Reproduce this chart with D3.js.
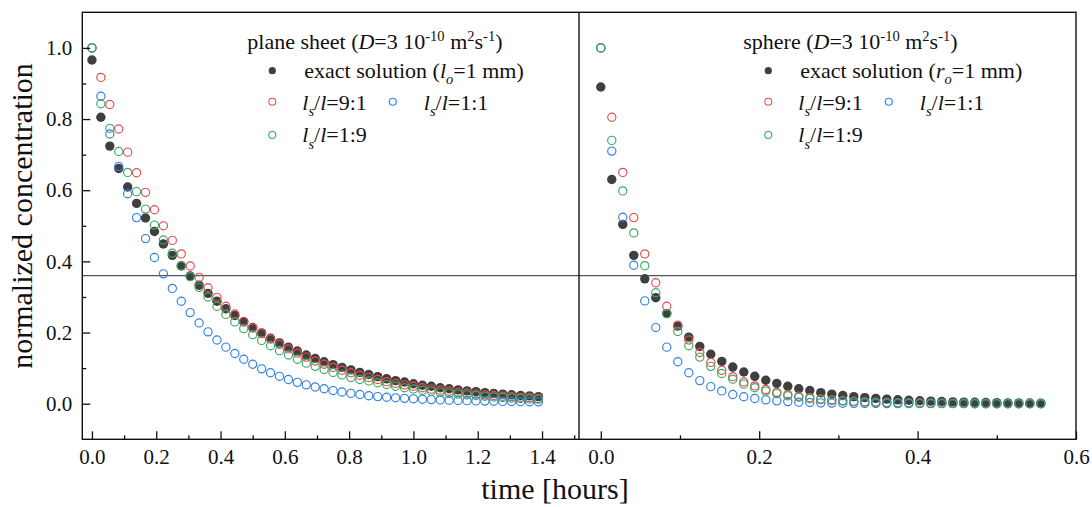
<!DOCTYPE html>
<html><head><meta charset="utf-8">
<script src="https://cdn.jsdelivr.net/npm/d3@7"></script>
<style>
body{margin:0;background:#fff}
</style>
</head><body>
<svg id="c" width="1092" height="507"></svg>
<script>
// ---------- data ----------
const planeTimeSec = [0,100,200,300,400,500,600,700,800,900,1000,1100,1200,1300,1400,1500,1600,1700,1800,1900,2000,2100,2200,2300,2400,2500,2600,2700,2800,2900,3000,3100,3200,3300,3400,3500,3600,3700,3800,3900,4000,4100,4200,4300,4400,4500,4600,4700,4800,4900,5000];
const planeExact = [0.966,0.805,0.724,0.661,0.609,0.563,0.522,0.484,0.449,0.417,0.387,0.359,0.333,0.310,0.288,0.267,0.248,0.230,0.214,0.199,0.184,0.171,0.159,0.148,0.137,0.127,0.118,0.110,0.102,0.095,0.088,0.082,0.076,0.070,0.065,0.061,0.056,0.052,0.049,0.045,0.042,0.039,0.036,0.034,0.031,0.029,0.027,0.025,0.023,0.022,0.020];
const plane91 = [1.000,0.917,0.841,0.772,0.707,0.649,0.594,0.545,0.500,0.459,0.421,0.387,0.355,0.326,0.299,0.274,0.252,0.231,0.213,0.197,0.182,0.167,0.154,0.142,0.131,0.120,0.111,0.102,0.094,0.087,0.080,0.074,0.068,0.062,0.057,0.053,0.049,0.045,0.041,0.038,0.035,0.032,0.030,0.027,0.025,0.023,0.021,0.020,0.018,0.017,0.015];
const plane11 = [1.000,0.864,0.758,0.667,0.590,0.523,0.464,0.411,0.365,0.324,0.288,0.256,0.227,0.202,0.179,0.159,0.141,0.125,0.111,0.098,0.087,0.077,0.068,0.060,0.053,0.047,0.042,0.037,0.033,0.029,0.026,0.0225,0.020,0.0183,0.0166,0.0151,0.0138,0.0126,0.0116,0.0107,0.0099,0.0092,0.0085,0.0079,0.0074,0.0069,0.0065,0.0061,0.0058,0.0055,0.0052];
const plane19 = [1.000,0.843,0.774,0.709,0.650,0.596,0.547,0.502,0.460,0.423,0.388,0.357,0.327,0.300,0.274,0.251,0.230,0.211,0.194,0.178,0.163,0.149,0.137,0.125,0.114,0.105,0.096,0.088,0.081,0.074,0.068,0.064,0.059,0.054,0.049,0.045,0.0415,0.038,0.035,0.032,0.029,0.027,0.025,0.023,0.021,0.019,0.0174,0.016,0.0147,0.0135,0.0124];

const sphereTimeSec = [0,50,100,150,200,250,300,350,400,450,500,550,600,650,700,750,800,850,900,950,1000,1050,1100,1150,1200,1250,1300,1350,1400,1450,1500,1550,1600,1650,1700,1750,1800,1850,1900,1950,2000];
const sphereExact = [0.890,0.630,0.504,0.417,0.351,0.298,0.254,0.218,0.187,0.161,0.139,0.119,0.103,0.089,0.077,0.066,0.057,0.049,0.042,0.037,0.031,0.027,0.023,0.020,0.017,0.015,0.013,0.011,0.0096,0.0083,0.0072,0.0062,0.0053,0.0046,0.0040,0.0034,0.0029,0.0025,0.0022,0.0019,0.0016];
const sphere91 = [1.000,0.805,0.650,0.523,0.421,0.340,0.274,0.221,0.179,0.144,0.116,0.094,0.076,0.061,0.050,0.040,0.032,0.026,0.021,0.017,0.0136,0.0110,0.0089,0.0071,0.0058,0.0046,0.0037,0.0030,0.0024,0.0020,0.0016,0.0013,0.0010,0.0008,0.0007,0.0005,0.0004,0.0004,0.0003,0.0002,0.0002];
const sphere11 = [1.000,0.710,0.524,0.389,0.289,0.214,0.159,0.118,0.087,0.065,0.048,0.036,0.026,0.0197,0.0146,0.0108,0.0080,0.0060,0.0044,0.0033,0.0024,0.0018,0.0013,0.0010,0.0007,0.0006,0.0004,0.0003,0.0002,0.0002,0.0001,0.0001,0.0001,0.0001,0,0,0,0,0,0,0];
const sphere19 = [1.000,0.740,0.598,0.480,0.388,0.312,0.253,0.203,0.163,0.131,0.105,0.085,0.069,0.055,0.045,0.0355,0.0285,0.0225,0.018,0.0143,0.0114,0.0091,0.0073,0.0058,0.0046,0.0037,0.0030,0.0024,0.0019,0.0015,0.0012,0.0010,0.0008,0.0006,0.0005,0.0004,0.0003,0.0003,0.0002,0.0002,0.0001];

const refLevel = 0.36;
const yTicks = [0.0,0.2,0.4,0.6,0.8,1.0];
const yMinor = [0.1,0.3,0.5,0.7,0.9];
const xTicksLeft = [0.0,0.2,0.4,0.6,0.8,1.0,1.2,1.4];
const xMinorLeft = [0.1,0.3,0.5,0.7,0.9,1.1,1.3,1.5];
const xTicksRight = [0.0,0.2,0.4,0.6];
const xMinorRight = [0.1,0.3,0.5];
const seriesNames = ["exact","9:1","1:1","1:9"];

// ---------- styles ----------
const FONT = "'Liberation Serif','Times New Roman',serif";
const COL = {exact:"#3f3f3f", "9:1":"#ea4a4d", "1:1":"#2f7fe6", "1:9":"#3aa865"};
const FS_TICK = 21, FS_LEG = 22, FS_TITLE = 30;

const svg = d3.select("#c");
const y = d3.scaleLinear().domain([-0.1,1.1]).range([439.3,12.3]);
const xL = d3.scaleLinear().domain([-0.03,1.515]).range([82.3,579]);
const xR = d3.scaleLinear().domain([-0.0275,0.6]).range([579,1076]);
const fmt = d3.format(".1f");

// reference line
svg.append("line")
  .attr("x1", xL.range()[0]).attr("x2", xR.range()[1])
  .attr("y1", y(refLevel)).attr("y2", y(refLevel))
  .attr("stroke","#555").attr("stroke-width",1.4);

function drawSeries(x, times, arrays){
  const g = svg.append("g");
  arrays.forEach((arr,si)=>{
    const name = seriesNames[si];
    const pts = arr.map((v,i)=>({t:times[i]/3600, v}));
    g.append("g").selectAll("circle").data(pts).join("circle")
      .attr("cx", d=>x(d.t)).attr("cy", d=>y(d.v))
      .attr("r", name==="exact"?4.7:4.1)
      .attr("fill", name==="exact"?COL.exact:"none")
      .attr("stroke", name==="exact"?"none":COL[name])
      .attr("stroke-width", 1.15);
  });
}
drawSeries(xL, planeTimeSec, [planeExact, plane91, plane11, plane19]);
drawSeries(xR, sphereTimeSec, [sphereExact, sphere91, sphere11, sphere19]);

// axes
function styleAxis(g){
  g.attr("font-family", null).attr("font-size", null);
  g.select(".domain").remove();
  g.selectAll(".tick line").attr("stroke","#111").attr("stroke-width",1.3);
  g.selectAll("text").style("font-family",FONT).style("font-size",FS_TICK+"px").attr("fill","#111");
}
const yb = y.range()[0];
svg.append("g").attr("transform",`translate(0,${yb})`)
  .call(d3.axisBottom(xL).tickValues(xTicksLeft).tickFormat(fmt).tickSize(-8).tickPadding(10)).call(styleAxis);
svg.append("g").attr("transform",`translate(0,${yb})`)
  .call(d3.axisBottom(xL).tickValues(xMinorLeft).tickFormat("").tickSize(-4)).call(styleAxis);
svg.append("g").attr("transform",`translate(0,${yb})`)
  .call(d3.axisBottom(xR).tickValues(xTicksRight).tickFormat(fmt).tickSize(-8).tickPadding(10)).call(styleAxis);
svg.append("g").attr("transform",`translate(0,${yb})`)
  .call(d3.axisBottom(xR).tickValues(xMinorRight).tickFormat("").tickSize(-4)).call(styleAxis);
svg.append("g").attr("transform",`translate(${xL.range()[0]},0)`)
  .call(d3.axisLeft(y).tickValues(yTicks).tickFormat(fmt).tickSize(-8).tickPadding(10)).call(styleAxis);
svg.append("g").attr("transform",`translate(${xL.range()[0]},0)`)
  .call(d3.axisLeft(y).tickValues(yMinor).tickFormat("").tickSize(-4)).call(styleAxis);

// frame
svg.append("rect")
  .attr("x",xL.range()[0]).attr("y",y.range()[1])
  .attr("width",xR.range()[1]-xL.range()[0]).attr("height",y.range()[0]-y.range()[1])
  .attr("fill","none").attr("stroke","#111").attr("stroke-width",1.4);
svg.append("line").attr("x1",xR.range()[0]).attr("x2",xR.range()[0])
  .attr("y1",y.range()[1]).attr("y2",y.range()[0]).attr("stroke","#111").attr("stroke-width",1.4);

// axis titles
svg.append("text").attr("x",555).attr("y",499).attr("text-anchor","middle")
  .style("font-family",FONT).style("font-size",FS_TITLE+"px").attr("fill","#111").text("time [hours]");
svg.append("text").attr("transform","translate(32,216) rotate(-90)").attr("text-anchor","middle")
  .style("font-family",FONT).style("font-size",FS_TITLE+"px").attr("fill","#111").text("normalized concentration");

// legends
function rich(x, yy, parts, fs){
  const t = svg.append("text").attr("x",x).attr("y",yy)
    .style("font-family",FONT).style("font-size",fs+"px").attr("fill","#111");
  let shift = 0;
  parts.forEach(p=>{
    const target = p.sup ? -0.36*fs : p.sub ? 0.3*fs : 0;
    const s = t.append("tspan").text(p.t).attr("dy", target - shift);
    shift = target;
    if (p.sup||p.sub) s.style("font-size",(0.66*fs)+"px");
    if (p.i) s.style("font-style","italic");
  });
}
function header(name){
  return [{t:name+" ("},{t:"D",i:1},{t:"=3 10"},{t:"-10",sup:1},{t:" m"},{t:"2",sup:1},{t:"s"},{t:"-1",sup:1},{t:")"}];
}
function ratio(r){ return [{t:"l",i:1},{t:"s",i:1,sub:1},{t:"/"},{t:"l",i:1},{t:"="+r}]; }
function legend(x0, title, radiusSym){
  const mx = x0 + 25, tx = x0 + 55;
  rich(x0, 49, header(title), FS_LEG);
  svg.append("circle").attr("cx",mx).attr("cy",70.7).attr("r",3.6).attr("fill",COL.exact);
  rich(tx+2, 77.5, [{t:"exact solution ("},{t:radiusSym,i:1},{t:"o",i:1,sub:1},{t:"=1 mm)"}], FS_LEG);
  svg.append("circle").attr("cx",mx).attr("cy",101.7).attr("r",3.5).attr("fill","none").attr("stroke",COL["9:1"]).attr("stroke-width",1.1);
  rich(tx, 109.5, ratio("9:1"), FS_LEG);
  svg.append("circle").attr("cx",mx+120.5).attr("cy",101.7).attr("r",3.5).attr("fill","none").attr("stroke",COL["1:1"]).attr("stroke-width",1.1);
  rich(tx+121.5, 109.5, ratio("1:1"), FS_LEG);
  svg.append("circle").attr("cx",mx).attr("cy",135).attr("r",3.5).attr("fill","none").attr("stroke",COL["1:9"]).attr("stroke-width",1.1);
  rich(tx, 142, ratio("1:9"), FS_LEG);
}
legend(247.3, "plane sheet", "l");
legend(743.3, "sphere", "r");
</script>
</body></html>
